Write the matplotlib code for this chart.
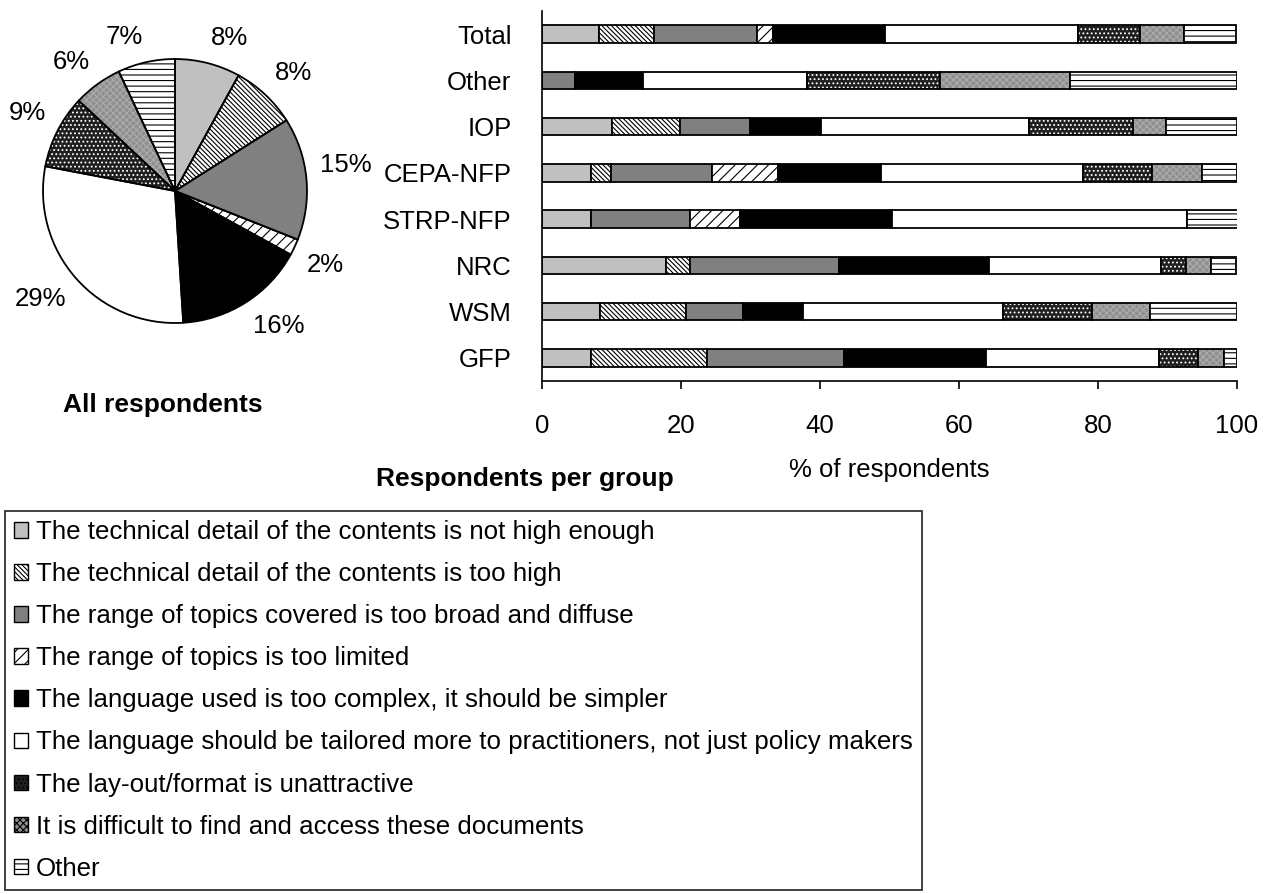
import matplotlib
matplotlib.use("Agg")
import matplotlib.pyplot as plt
import numpy as np

plt.rcParams['font.family'] = ['Liberation Sans', 'DejaVu Sans']
plt.rcParams['hatch.linewidth'] = 0.8

# groups, top to bottom
groups = ['Total', 'Other', 'IOP', 'CEPA-NFP', 'STRP-NFP', 'NRC', 'WSM', 'GFP']

# % of respondents per reason, same order as groups
not_high_enough = [8.2, 0, 10.0, 7.1, 7.1, 17.8, 8.3, 7.1]
too_high = [7.9, 0, 9.8, 2.8, 0, 3.5, 12.4, 16.6]
too_broad = [14.9, 4.7, 10.1, 14.6, 14.2, 21.4, 8.2, 19.7]
too_limited = [2.3, 0, 0, 9.5, 7.2, 0, 0, 0]
too_complex = [16.1, 9.8, 10.3, 14.8, 21.8, 21.6, 8.6, 20.5]
tailored = [27.7, 23.6, 29.8, 29.1, 42.5, 24.8, 28.9, 24.9]
layout = [8.9, 19.1, 15.0, 9.9, 0, 3.5, 12.8, 5.6]
difficult = [6.4, 18.8, 4.8, 7.2, 0, 3.7, 8.3, 3.7]
other = [7.5, 24.0, 10.2, 5.0, 7.3, 3.5, 12.5, 1.9]

# all respondents (pie)
pie_values = [8, 8, 15, 2, 16, 29, 9, 6, 7]

reasons = [
    'The technical detail of the contents is not high enough',
    'The technical detail of the contents is too high',
    'The range of topics covered is too broad and diffuse',
    'The range of topics is too limited',
    'The language used is too complex, it should be simpler',
    'The language should be tailored more to practitioners, not just policy makers',
    'The lay-out/format is unattractive',
    'It is difficult to find and access these documents',
    'Other',
]
series = [not_high_enough, too_high, too_broad, too_limited, too_complex,
          tailored, layout, difficult, other]

# (face colour, hatch, hatch colour)
styles = [
    ('#c0c0c0', None, '#c0c0c0'),
    ('white', '\\\\\\\\\\\\\\', 'black'),
    ('#808080', None, '#808080'),
    ('white', '///', 'black'),
    ('black', None, 'black'),
    ('white', None, 'white'),
    ('#202020', '....', 'white'),
    ('#8f8f8f', 'xxxxx', '#acacac'),
    ('white', '---', 'black'),
]

W, H = 1273, 894
fig = plt.figure(figsize=(W / 100, H / 100), dpi=100)

# ---- pie ----
cx, cy, r = 175, 191, 132
axp = fig.add_axes([(cx - r) / W, 1 - (cy + r) / H, 2 * r / W, 2 * r / H])
wedges, _ = axp.pie(pie_values, startangle=90, counterclock=False,
                    colors=[s[0] for s in styles], wedgeprops=dict(linewidth=0))
for w, (fc, h, hc) in zip(wedges, styles):
    w.set_edgecolor(hc)
    w.set_hatch(h)
    w.set_clip_on(False)
outline, _ = axp.pie(pie_values, startangle=90, counterclock=False,
                     wedgeprops=dict(fill=False, edgecolor='black', linewidth=1.3))
for w in outline:
    w.set_clip_on(False)
# labels: nearest corner of the text box just outside the wedge middle
for w, v in zip(wedges, pie_values):
    a = np.deg2rad((w.theta1 + w.theta2) / 2)
    c, s = np.cos(a), np.sin(a)
    axp.text(1.1 * c, 1.1 * s, f'{v}%', fontsize=18.5,
             ha='left' if c > 0 else 'right', va='bottom' if s > 0 else 'top')
axp.set_xlim(-1, 1)
axp.set_ylim(-1, 1)
axp.set_aspect('equal')

fig.text(163 / W, 1 - 405 / H, 'All respondents', ha='center', va='center',
         fontsize=19, fontweight='bold')

# ---- stacked bars ----
ax = fig.add_axes([542 / W, 1 - 381 / H, 695 / W, 370 / H])
y = np.arange(len(groups))
left = np.zeros(len(groups))
for vals, (fc, h, hc) in zip(series, styles):
    vals = np.array(vals)
    ax.barh(y, vals, left=left, height=0.38, color=fc, edgecolor=hc, hatch=h, linewidth=0)
    ax.barh(y, vals, left=left, height=0.38, fill=False, edgecolor='black', linewidth=1.3)
    left += vals

ax.set_ylim(len(groups) - 0.5, -0.5)
ax.set_yticks(y)
ax.set_yticklabels(groups, fontsize=18.5)
ax.set_xlim(0, 100)
ax.set_xticks([0, 20, 40, 60, 80, 100])
ax.tick_params(axis='x', labelsize=18.5, direction='out', length=6, width=1.2, pad=18)
ax.tick_params(axis='y', length=0, pad=22)
for s in ['top', 'right']:
    ax.spines[s].set_visible(False)
for s in ['left', 'bottom']:
    ax.spines[s].set_linewidth(1.2)
ax.set_xlabel('% of respondents', fontsize=18.5, labelpad=14)

fig.text(525 / W, 1 - 479 / H, 'Respondents per group', ha='center', va='center',
         fontsize=19, fontweight='bold')

# ---- legend ----
handles = [plt.Rectangle((0, 0), 1, 1, facecolor=fc, edgecolor='black', hatch=h, linewidth=1)
           for fc, h, hc in styles]
leg = fig.legend(handles, reasons, loc='upper left',
                 bbox_to_anchor=(5 / W, 1 - 511 / H, 917 / W, 0.0), mode='expand',
                 fontsize=18.6, frameon=True, fancybox=False, edgecolor='black',
                 handlelength=0.55, handleheight=0.55, handletextpad=0.3,
                 labelspacing=0.7, borderpad=0.35, borderaxespad=0)
leg.get_frame().set_linewidth(1.3)

fig.savefig('out.png', dpi=100)
